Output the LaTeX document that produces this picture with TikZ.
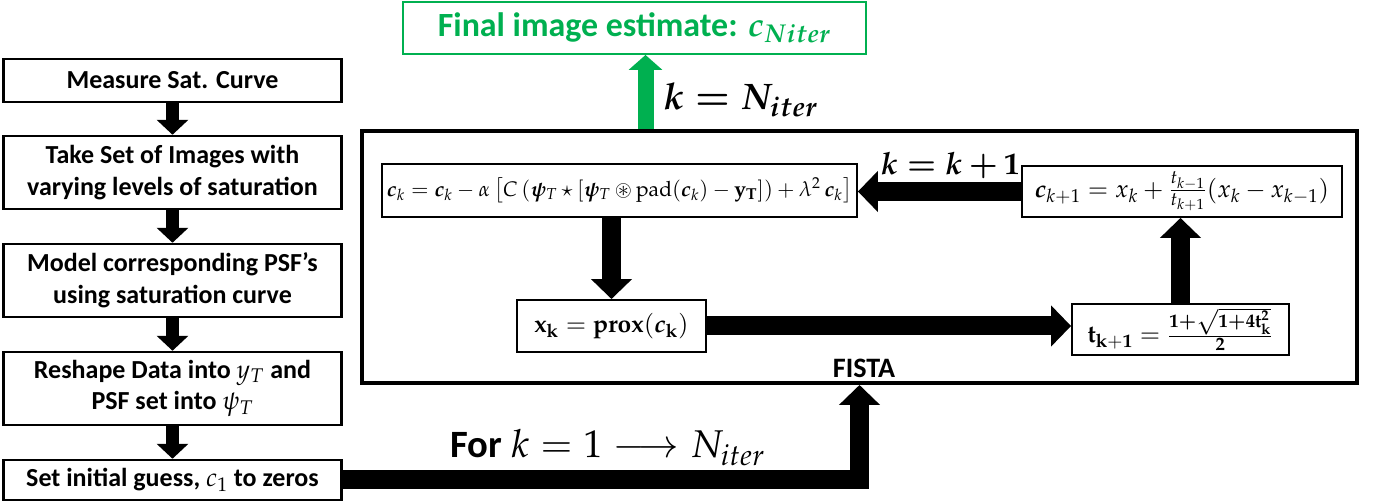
\documentclass[tikz,border=0pt]{standalone}
\usepackage{amsmath}
\usepackage{mathpazo}
\usepackage{amssymb}
\usepackage{bm}
\usepackage[no-math]{fontspec}
\setmainfont{Carlito}
\usepackage{tikz}
\usetikzlibrary{arrows.meta}
\definecolor{estimateGreen}{HTML}{00B050}
\tikzset{
  stepbox/.style={draw,line width=1.4pt,minimum width=6.76cm,align=center,inner sep=0pt,
    font=\fontsize{14.8}{18}\selectfont\bfseries},
  eqbox/.style={draw,line width=1.1pt,inner sep=0pt,font=\fontsize{14}{16}\selectfont},
  loopbox/.style={draw,line width=2.3pt},
  flowarrow/.style={line width=0.26cm,-{Triangle[width=0.62cm,length=0.3cm]}},
  looparrow/.style={line width=0.38cm,-{Triangle[width=0.8cm,length=0.4cm]}},
  donearrow/.style={draw=estimateGreen,line width=0.32cm,-{Triangle[width=0.66cm,length=0.3cm]}},
}

\begin{document}
\begin{tikzpicture}[x=0.02cm,y=-0.02cm]
\useasboundingbox (0,0) rectangle (1380,502);
% pre-processing steps
\node[stepbox,minimum height=0.86cm] (measure) at (172.5,80.5) {Measure Sat. Curve};
\node[stepbox,minimum height=1.46cm] (images) at (172.5,172.5) {Take Set of Images with\\varying levels of saturation};
\node[stepbox,minimum height=1.46cm] (model) at (172.5,280.5) {Model corresponding PSF’s\\using saturation curve};
\node[stepbox,minimum height=1.46cm] (reshape) at (172.5,388.5) {Reshape Data into $y_T$ and\\PSF set into $\psi_T$};
\node[stepbox,minimum height=0.8cm] (init) at (172.5,480) {Set initial guess, $c_1$ to zeros};
\foreach \a/\b in {measure/images,images/model,model/reshape,reshape/init}
  \draw[flowarrow] (\a) -- (\b);

% FISTA loop
\node[loopbox,minimum width=19.9cm,minimum height=5.04cm] (fista) at (859.5,257) {};
\node[anchor=base,font=\fontsize{16}{18}\selectfont\bfseries] (fistatitle) at (864,378) {FISTA};
\node[eqbox,minimum width=9.5cm,minimum height=1.06cm,font=\fontsize{12}{14}\selectfont] (update) at (619.5,190.5)
  {$\bm{c}_k = \bm{c}_k - \alpha\left[C\left(\bm{\psi}_T \star [\bm{\psi}_T \circledast \mathrm{pad}(\bm{c}_k) - \mathbf{y_T}]\right) + \lambda^2\,\bm{c}_k\right]$};
\node[eqbox,minimum width=6.4cm,minimum height=1.02cm] (momentum) at (1182,191.5)
  {$\bm{c}_{k+1} = x_k + \frac{t_{k-1}}{t_{k+1}}(x_k - x_{k-1})$};
\node[eqbox,minimum width=3.78cm,minimum height=1.04cm] (prox) at (611.5,326)
  {$\mathbf{x_k} = \mathbf{prox}(\bm{c}_{\mathbf{k}})$};
\node[eqbox,minimum width=4.34cm,minimum height=1.02cm] (tstep) at (1180.5,329.5)
  {$\mathbf{t_{k+1}} = \frac{\mathbf{1}\bm{+}\sqrt{\mathbf{1}\bm{+}\mathbf{4t_k^2}}}{\mathbf{2}}$};
\draw[looparrow] (update.south -| prox.north) -- (prox.north);
\draw[looparrow] (prox.east) -- (prox.east -| tstep.west);
\draw[looparrow] (tstep.north) -- (tstep.north |- momentum.south);
\draw[looparrow] (momentum.west) -- (momentum.west -| update.east);
\node[anchor=base,font=\fontsize{17.5}{20}\selectfont] (kinc) at (950,175) {$\bm{k} \bm{=} \bm{k} \bm{+} \mathbf{1}$};

% entering and leaving the loop
\draw[looparrow] (init.east) -| (fista.south);
\node[anchor=base,font=\fontsize{22}{26}\selectfont] (forloop) at (608,458) {\textbf{For} $k = 1 \longrightarrow N_{iter}$};
\node[draw=estimateGreen,line width=1.1pt,minimum width=9.26cm,minimum height=1.04cm,text=estimateGreen,
  font=\fontsize{19.3}{22}\selectfont\bfseries] (final) at (634.5,28) {Final image estimate: $\bm{c}_{\bm{Niter}}$};
\draw[donearrow] ([xshift=0.22cm]final.south |- fista.north) -- ([xshift=0.22cm]final.south);
\node[anchor=base west,font=\fontsize{21}{24}\selectfont] (kend) at (657,110) {$\bm{k} \bm{=} \bm{N}_{\bm{iter}}$};
\end{tikzpicture}
\end{document}
